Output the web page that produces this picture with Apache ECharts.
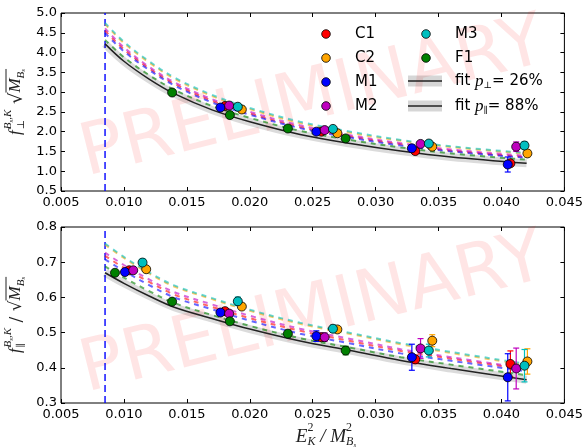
<!DOCTYPE html>
<html>
<head>
<meta charset="utf-8">
<script src="https://cdn.jsdelivr.net/npm/echarts@6/dist/echarts.min.js"></script>
<style>
  html, body { margin: 0; padding: 0; background: #ffffff; }
  #chart { width: 586px; height: 448px; }
</style>
</head>
<body>
<div id="chart"></div>
<script>
// ---------------- data ----------------
const xTicks = [0.005, 0.010, 0.015, 0.020, 0.025, 0.030, 0.035, 0.040, 0.045];
const perpTicks = [0.5, 1.0, 1.5, 2.0, 2.5, 3.0, 3.5, 4.0, 4.5, 5.0];
const parTicks = [0.3, 0.4, 0.5, 0.6, 0.7, 0.8];

// lower edge of the kinematic range (vertical dashed line)
const kinematicCut = 0.0085;

// E_K^2 / M_Bs^2 grid on which the fit curves are tabulated
const fitE2 = [0.0085, 0.010, 0.012, 0.014, 0.017, 0.020, 0.024, 0.028, 0.032, 0.036, 0.042];

// f_perp sqrt(M_Bs): continuum fit and per-ensemble curves
const perpFit     = [4.22, 3.78, 3.33, 2.96, 2.55, 2.25, 1.93, 1.70, 1.51, 1.36, 1.20];
const perpCurveC1 = [4.55, 4.08, 3.60, 3.21, 2.78, 2.46, 2.12, 1.88, 1.68, 1.52, 1.36];
const perpCurveC2 = [4.72, 4.24, 3.75, 3.34, 2.90, 2.57, 2.22, 1.97, 1.77, 1.61, 1.44];
const perpCurveM1 = [4.49, 4.03, 3.56, 3.17, 2.74, 2.43, 2.09, 1.85, 1.65, 1.50, 1.34];
const perpCurveM2 = [4.61, 4.13, 3.64, 3.25, 2.82, 2.50, 2.16, 1.91, 1.71, 1.55, 1.39];
const perpCurveM3 = [4.75, 4.27, 3.78, 3.37, 2.93, 2.60, 2.25, 2.00, 1.79, 1.63, 1.46];
const perpCurveF1 = [4.32, 3.88, 3.43, 3.06, 2.65, 2.35, 2.02, 1.79, 1.60, 1.45, 1.29];

// f_par / sqrt(M_Bs): continuum fit and per-ensemble curves
const parFit     = [0.670, 0.640, 0.604, 0.572, 0.540, 0.510, 0.476, 0.449, 0.421, 0.398, 0.366];
const parCurveC1 = [0.718, 0.684, 0.644, 0.608, 0.573, 0.541, 0.505, 0.476, 0.448, 0.426, 0.395];
const parCurveC2 = [0.750, 0.712, 0.668, 0.631, 0.595, 0.562, 0.525, 0.496, 0.467, 0.442, 0.408];
const parCurveM1 = [0.708, 0.675, 0.635, 0.600, 0.566, 0.534, 0.497, 0.469, 0.441, 0.420, 0.390];
const parCurveM2 = [0.727, 0.692, 0.651, 0.615, 0.580, 0.548, 0.511, 0.482, 0.453, 0.430, 0.398];
const parCurveM3 = [0.753, 0.715, 0.671, 0.634, 0.598, 0.565, 0.528, 0.499, 0.470, 0.445, 0.411];
const parCurveF1 = [0.688, 0.656, 0.618, 0.584, 0.550, 0.519, 0.484, 0.457, 0.430, 0.409, 0.379];

// lattice data points per ensemble (null: no f_perp value at that momentum)
const eC1 = [0.01042, 0.01804, 0.02569, 0.03315, 0.04071];
const perpC1 = [null, 2.65, 2.00, 1.51, 1.20];
const perpErrC1 = [null, 0.04, 0.04, 0.05, 0.06];
const parC1 = [0.677, 0.561, 0.487, 0.424, 0.411];
const parErrC1 = [0.006, 0.007, 0.010, 0.012, 0.037];

const eC2 = [0.01177, 0.01937, 0.02696, 0.03450, 0.04206];
const perpC2 = [null, 2.56, 1.96, 1.62, 1.45];
const perpErrC2 = [null, 0.04, 0.04, 0.05, 0.09];
const parC2 = [0.680, 0.574, 0.509, 0.477, 0.418];
const parErrC2 = [0.006, 0.007, 0.008, 0.017, 0.036];

const eM1 = [0.01008, 0.01767, 0.02529, 0.03288, 0.04050];
const perpM1 = [null, 2.61, 2.00, 1.58, 1.17];
const perpErrM1 = [null, 0.04, 0.05, 0.08, 0.19];
const parM1 = [0.672, 0.557, 0.490, 0.430, 0.373];
const parErrM1 = [0.008, 0.008, 0.015, 0.037, 0.067];

const eM2 = [0.01074, 0.01836, 0.02595, 0.03357, 0.04117];
const perpM2 = [null, 2.66, 2.04, 1.69, 1.62];
const perpErrM2 = [null, 0.05, 0.05, 0.06, 0.12];
const parM2 = [0.677, 0.554, 0.487, 0.455, 0.398];
const parErrM2 = [0.006, 0.008, 0.012, 0.028, 0.058];

const eM3 = [0.01148, 0.01905, 0.02661, 0.03423, 0.04183];
const perpM3 = [null, 2.63, 2.07, 1.70, 1.65];
const perpErrM3 = [null, 0.05, 0.05, 0.06, 0.10];
const parM3 = [0.699, 0.589, 0.511, 0.449, 0.406];
const parErrM3 = [0.010, 0.012, 0.010, 0.018, 0.046];

const eF1 = [0.00929, 0.01383, 0.01842, 0.02303, 0.02762];
const perpF1 = [null, 2.99, 2.42, 2.08, 1.83];
const perpErrF1 = [null, 0.03, 0.03, 0.04, 0.05];
const parF1 = [0.670, 0.588, 0.532, 0.497, 0.449];
const parErrF1 = [0.006, 0.006, 0.007, 0.010, 0.012];

const fitPerpLabel = '26%';
const fitParLabel = '88%';

// ---------------- styling ----------------
const ensembles = [
  { name: 'C1', color: '#ff0000', e: eC1, perp: perpC1, perpErr: perpErrC1, par: parC1, parErr: parErrC1, perpCurve: perpCurveC1, parCurve: parCurveC1 },
  { name: 'C2', color: '#ffa500', e: eC2, perp: perpC2, perpErr: perpErrC2, par: parC2, parErr: parErrC2, perpCurve: perpCurveC2, parCurve: parCurveC2 },
  { name: 'M1', color: '#0000ff', e: eM1, perp: perpM1, perpErr: perpErrM1, par: parM1, parErr: parErrM1, perpCurve: perpCurveM1, parCurve: parCurveM1 },
  { name: 'M2', color: '#bf00bf', e: eM2, perp: perpM2, perpErr: perpErrM2, par: parM2, parErr: parErrM2, perpCurve: perpCurveM2, parCurve: parCurveM2 },
  { name: 'M3', color: '#00bfbf', e: eM3, perp: perpM3, perpErr: perpErrM3, par: parM3, parErr: parErrM3, perpCurve: perpCurveM3, parCurve: parCurveM3 },
  { name: 'F1', color: '#008000', e: eF1, perp: perpF1, perpErr: perpErrF1, par: parF1, parErr: parErrF1, perpCurve: perpCurveF1, parCurve: parCurveF1 }
];

const SANS = '"DejaVu Sans", sans-serif';
const SERIF = '"Liberation Serif", "DejaVu Serif", serif';
const SYM = '"DejaVu Serif", serif';

const grids = [
  { left: 61, top: 13, width: 504, height: 178 },
  { left: 61, top: 227, width: 504, height: 176 }
];
const yRanges = [
  { ticks: perpTicks, interval: 0.5, digits: 1 },
  { ticks: parTicks, interval: 0.1, digits: 1 }
];

function zip(xs, ys, errs) {
  const out = [];
  xs.forEach((x, i) => {
    if (ys[i] === null || ys[i] === undefined) return;
    out.push(errs ? [x, ys[i], errs[i]] : [x, ys[i]]);
  });
  return out;
}

function errorBarItem(params, api) {
  const x = api.value(0), y = api.value(1), err = api.value(2);
  const lo = api.coord([x, y - err]);
  const hi = api.coord([x, y + err]);
  const cap = 3;
  const style = { stroke: api.visual('color'), lineWidth: 1.2, fill: null };
  return {
    type: 'group',
    children: [
      { type: 'line', shape: { x1: lo[0], y1: lo[1], x2: hi[0], y2: hi[1] }, style },
      { type: 'line', shape: { x1: lo[0] - cap, y1: lo[1], x2: lo[0] + cap, y2: lo[1] }, style },
      { type: 'line', shape: { x1: hi[0] - cap, y1: hi[1], x2: hi[0] + cap, y2: hi[1] }, style }
    ]
  };
}

// axes: bottom/left with labels, top/right carry inward ticks only
const xAxes = [], yAxes = [];
grids.forEach((g, gi) => {
  const tick = { show: true, inside: true, length: 4, lineStyle: { color: '#000', width: 1 } };
  const xr = { min: xTicks[0], max: xTicks[xTicks.length - 1], interval: 0.005 };
  xAxes.push(Object.assign({
    type: 'value', gridIndex: gi, position: 'bottom',
    axisLine: { show: false }, axisTick: tick, splitLine: { show: false },
    axisLabel: { color: '#000', fontFamily: SANS, fontSize: 13, margin: 5, formatter: v => v.toFixed(3) }
  }, xr));
  xAxes.push(Object.assign({
    type: 'value', gridIndex: gi, position: 'top',
    axisLine: { show: false }, axisTick: tick, splitLine: { show: false }, axisLabel: { show: false }
  }, xr));
  const r = yRanges[gi];
  const yr = { min: r.ticks[0], max: r.ticks[r.ticks.length - 1], interval: r.interval };
  yAxes.push(Object.assign({
    type: 'value', gridIndex: gi, position: 'left',
    axisLine: { show: false }, axisTick: tick, splitLine: { show: false },
    axisLabel: { color: '#000', fontFamily: SANS, fontSize: 13, margin: 4, formatter: v => v.toFixed(r.digits) }
  }, yr));
  yAxes.push(Object.assign({
    type: 'value', gridIndex: gi, position: 'right',
    axisLine: { show: false }, axisTick: tick, splitLine: { show: false }, axisLabel: { show: false }
  }, yr));
});

const series = [];
function addPanel(gi, fit, curveKey, valKey, errKey) {
  const xi = gi * 2, yi = gi * 2;
  const r = yRanges[gi];
  const lineCommon = { type: 'line', xAxisIndex: xi, yAxisIndex: yi, smooth: 0.35, showSymbol: false, silent: true };
  // kinematic cut
  series.push(Object.assign({}, lineCommon, {
    data: [[kinematicCut, r.ticks[0]], [kinematicCut, r.ticks[r.ticks.length - 1]]], smooth: false, z: 1,
    lineStyle: { color: '#0000ff', type: [7, 4], width: 1.4 }
  }));
  // fit uncertainty band
  series.push(Object.assign({}, lineCommon, {
    data: zip(fitE2, fit), z: 1,
    lineStyle: { color: 'rgba(0,0,0,0.14)', width: 8, cap: 'butt' }
  }));
  // per-ensemble curves
  ensembles.forEach(en => {
    series.push(Object.assign({}, lineCommon, {
      data: zip(fitE2, en[curveKey]), z: 2,
      lineStyle: { color: en.color, width: 2, type: [5, 5], opacity: 0.6 }
    }));
  });
  // continuum fit
  series.push(Object.assign({}, lineCommon, {
    data: zip(fitE2, fit), z: 3,
    lineStyle: { color: '#222', width: 1.5 }
  }));
  // data points with error bars
  ensembles.forEach(en => {
    series.push({
      type: 'custom', xAxisIndex: xi, yAxisIndex: yi, renderItem: errorBarItem,
      data: zip(en.e, en[valKey], en[errKey]), encode: { x: 0, y: 1 },
      itemStyle: { color: en.color }, z: 4, silent: true
    });
    series.push({
      type: 'scatter', xAxisIndex: xi, yAxisIndex: yi, data: zip(en.e, en[valKey]),
      symbol: 'circle', symbolSize: 9, z: 5, silent: true,
      itemStyle: { color: en.color, borderColor: '#000', borderWidth: 0.8, opacity: 1 }
    });
  });
}
addPanel(0, perpFit, 'perpCurve', 'perp', 'perpErr');
addPanel(1, parFit, 'parCurve', 'par', 'parErr');

// ---------------- math-style labels ----------------
const measureCtx = document.createElement('canvas').getContext('2d');
function textWidth(t, font) { measureCtx.font = font; return measureCtx.measureText(t).width; }

function typeset(pieces, color) {
  const marks = {};
  let cursor = 0;
  const texts = [];
  const lines = [];
  pieces.forEach(p => {
    if (p.line) { lines.push(p); return; }
    const x0 = p.from !== undefined ? marks[p.from] : cursor;
    if (p.mark) marks[p.mark] = x0;
    const w = textWidth(p.t, p.font);
    texts.push({ x: x0 + (p.dx || 0), y: p.dy || 0, t: p.t, font: p.font });
    cursor = Math.max(cursor, x0 + w + (p.dx || 0));
    if (p.end) marks[p.end] = x0 + w;
  });
  const shift = -cursor / 2;
  const children = texts.map(tt => ({
    type: 'text', x: tt.x + shift, y: tt.y,
    style: { text: tt.t, font: tt.font, fill: color, align: 'left', verticalAlign: 'middle', textAlign: 'left', textVerticalAlign: 'middle' }
  }));
  lines.forEach(l => {
    children.push({
      type: 'line', shape: { x1: marks[l.a] + shift, y1: l.dy, x2: marks[l.b] + shift, y2: l.dy },
      style: { stroke: color, lineWidth: 1 }
    });
  });
  return children;
}

const big = 'italic 17px ' + SERIF;
const scr = 'italic 11px ' + SERIF;
const tiny = 'italic 7px ' + SERIF;
const symScr = '10px ' + SYM;
const bigX = 'italic 19px ' + SERIF;
const scrX = 'italic 12px ' + SERIF;

const perpYLabel = [
  { t: 'f', font: big },
  { t: 'B', font: scr, dy: -8, mark: 'sc', dx: 1 },
  { t: 's', font: tiny, dy: -5 },
  { t: ',K', font: scr, dy: -8 },
  { t: '⊥', font: symScr, dy: 5, from: 'sc', dx: 1 },
  { t: ' √', font: '18px ' + SYM, dy: 1 },
  { t: 'M', font: big, mark: 'm0' },
  { t: 'B', font: scr, dy: 5 },
  { t: 's', font: tiny, dy: 7, end: 'm1' },
  { line: true, a: 'm0', b: 'm1', dy: -10 }
];
const parYLabel = [
  { t: 'f', font: big },
  { t: 'B', font: scr, dy: -8, mark: 'sc', dx: 1 },
  { t: 's', font: tiny, dy: -5 },
  { t: ',K', font: scr, dy: -8 },
  { t: '∥', font: symScr, dy: 5, from: 'sc', dx: 1 },
  { t: ' / √', font: '17px ' + SYM, dy: 1 },
  { t: 'M', font: big, mark: 'm0' },
  { t: 'B', font: scr, dy: 5 },
  { t: 's', font: tiny, dy: 7, end: 'm1' },
  { line: true, a: 'm0', b: 'm1', dy: -10 }
];
const xLabel = [
  { t: 'E', font: bigX },
  { t: '2', font: '12px ' + SERIF, dy: -9, mark: 'e' },
  { t: 'K', font: scrX, dy: 5, from: 'e' },
  { t: ' / ', font: bigX },
  { t: 'M', font: bigX },
  { t: '2', font: '12px ' + SERIF, dy: -9, mark: 'm' },
  { t: 'B', font: scrX, dy: 5, from: 'm' },
  { t: 's', font: tiny, dy: 8 }
];
const fitPerpText = [
  { t: 'fit ', font: '15px ' + SANS },
  { t: 'p', font: 'italic 17px ' + SERIF, dy: 1 },
  { t: '⊥', font: '9px ' + SYM, dy: 5 },
  { t: '= ' + fitPerpLabel, font: '15px ' + SANS }
];
const fitParText = [
  { t: 'fit ', font: '15px ' + SANS },
  { t: 'p', font: 'italic 17px ' + SERIF, dy: 1 },
  { t: '∥', font: '9px ' + SYM, dy: 5 },
  { t: '= ' + fitParLabel, font: '15px ' + SANS }
];

function leftAlignedGroup(pieces, x, y) {
  const ch = typeset(pieces, '#000');
  const minX = Math.min(...ch.filter(c => c.type === 'text').map(c => c.x));
  ch.forEach(c => {
    if (c.type === 'text') c.x -= minX;
    else { c.shape.x1 -= minX; c.shape.x2 -= minX; }
  });
  return { type: 'group', x, y, children: ch };
}

const graphic = [];
// watermarks
[[313, 100], [313, 316]].forEach(([cx, cy]) => {
  graphic.push({
    type: 'text', x: cx, y: cy, rotation: 14 * Math.PI / 180, z: 0, silent: true,
    style: {
      text: 'PRELIMINARY', font: '72px ' + SANS, fill: 'rgba(255,0,0,0.10)',
      align: 'center', verticalAlign: 'middle', textAlign: 'center', textVerticalAlign: 'middle'
    }
  });
});
// axis titles
graphic.push({ type: 'group', x: 16, y: 102, rotation: Math.PI / 2, children: typeset(perpYLabel, '#222') });
graphic.push({ type: 'group', x: 16, y: 315, rotation: Math.PI / 2, children: typeset(parYLabel, '#222') });
graphic.push({ type: 'group', x: 326, y: 437, children: typeset(xLabel, '#222') });

// legend
const legendCols = [
  { markerX: 326, textX: 355, items: ['C1', 'C2', 'M1', 'M2'] },
  { markerX: 426, textX: 455, items: ['M3', 'F1'] }
];
const legendRowsY = [34, 58, 82, 106];
legendCols.forEach(col => {
  col.items.forEach((name, i) => {
    const en = ensembles.find(e => e.name === name);
    graphic.push({
      type: 'circle', shape: { cx: col.markerX, cy: legendRowsY[i], r: 4.3 }, z: 10,
      style: { fill: en.color, stroke: '#000', lineWidth: 0.8 }
    });
    graphic.push({
      type: 'text', x: col.textX, y: legendRowsY[i], z: 10,
      style: { text: name, font: '15px ' + SANS, fill: '#000', align: 'left', verticalAlign: 'middle', textAlign: 'left', textVerticalAlign: 'middle' }
    });
  });
});
[[fitPerpText, 81], [fitParText, 106]].forEach(([pieces, y]) => {
  graphic.push({ type: 'rect', shape: { x: 408, y: y - 5.5, width: 34, height: 11 }, z: 10, style: { fill: 'rgba(0,0,0,0.16)' } });
  graphic.push({ type: 'line', shape: { x1: 408, y1: y, x2: 442, y2: y }, z: 10, style: { stroke: '#222', lineWidth: 1.6 } });
  const g = leftAlignedGroup(pieces, 455, y);
  g.z = 10;
  graphic.push(g);
});

const chart = echarts.init(document.getElementById('chart'), null, { renderer: 'canvas' });
chart.setOption({
  animation: false,
  backgroundColor: '#ffffff',
  grid: grids.map(g => Object.assign({ show: true, borderColor: '#000', borderWidth: 1, backgroundColor: 'transparent' }, g)),
  xAxis: xAxes,
  yAxis: yAxes,
  series,
  graphic
});
</script>
</body>
</html>
